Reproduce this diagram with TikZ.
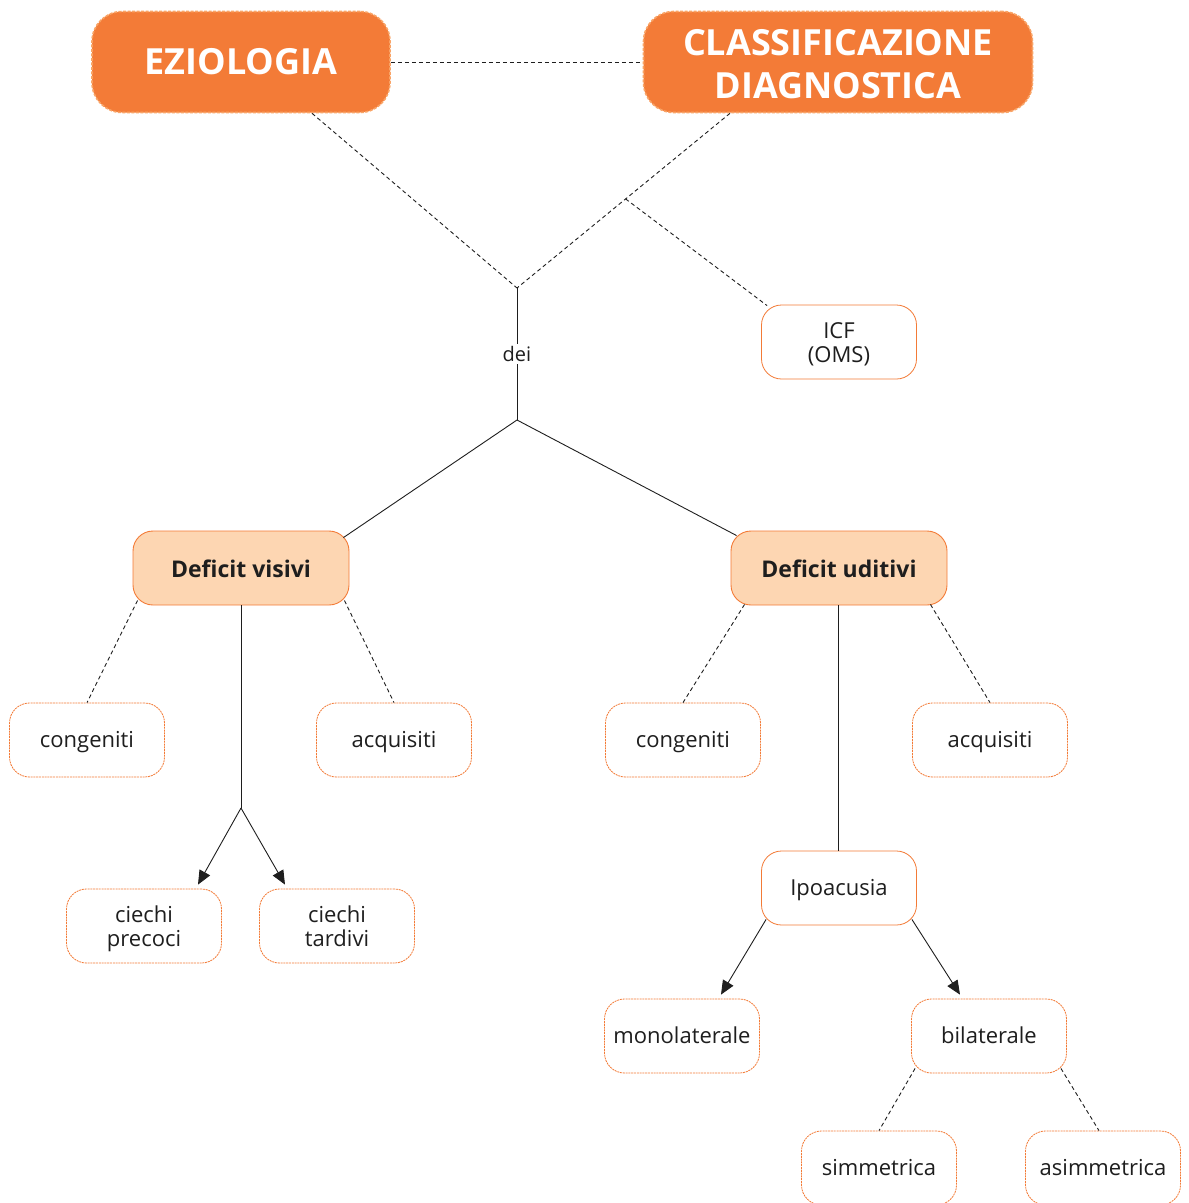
\documentclass[tikz,border=0pt]{standalone}
\usepackage{fontspec}
\setmainfont{Open Sans}
\usetikzlibrary{arrows.meta,calc}
\definecolor{orng}{HTML}{F37B37}
\definecolor{orngl}{HTML}{F9A466}
\definecolor{peach}{HTML}{FDD6B2}
\definecolor{txt}{HTML}{1E1E1E}
\tikzset{
  x=1pt,y=-1pt,
  topbox/.style={draw=orngl,line width=1.6pt,dash pattern=on 3pt off 1.5pt,fill=orng,rounded corners=30pt,
     text=white,font=\fontsize{36}{43}\selectfont\bfseries,align=center,inner sep=0pt},
  defbox/.style={draw=orng,line width=0.9pt,fill=peach,rounded corners=20pt,minimum width=216pt,minimum height=74pt,
     text=txt,font=\fontsize{23}{26}\selectfont\bfseries,inner sep=0pt,text height=19pt,text depth=1pt},
  leafbox/.style={draw=orng,line width=0.8pt,dash pattern=on 2pt off 0.8pt,fill=white,rounded corners=20pt,
     minimum width=155pt,minimum height=74pt,text=txt,font=\fontsize{22}{24}\selectfont,align=center,inner sep=0pt},
  oneline/.style={text height=17pt,text depth=3pt},
  twoline/.style={text height=42pt,text depth=2pt},
  solidleaf/.style={leafbox,solid},
  conn/.style={line width=0.9pt,draw=txt},
  dconn/.style={conn,dash pattern=on 4pt off 3pt},
  arr/.style={conn,-{Triangle[length=14pt,width=12pt]}},
}
\begin{document}
\begin{tikzpicture}
\useasboundingbox (0,0) rectangle (1189,1203);
\node[topbox,minimum width=298pt,minimum height=101pt] (ez) at (241,62) {EZIOLOGIA};
\node[topbox,minimum width=389pt,minimum height=101pt,text height=74pt,text depth=2pt] (cl) at (838,62) {CLASSIFICAZIONE\\DIAGNOSTICA};
\node[solidleaf,twoline] (icf) at (839,342) {ICF\\(OMS)};
\node[defbox] (dv) at (241,568) {Deficit visivi};
\node[defbox] (du) at (839,568) {Deficit uditivi};
\node[leafbox,oneline] (cv) at (87,740) {congeniti};
\node[leafbox,oneline] (av) at (394,740) {acquisiti};
\node[leafbox,oneline] (cu) at (683,740) {congeniti};
\node[leafbox,oneline] (au) at (990,740) {acquisiti};
\node[leafbox,twoline] (cp) at (144,926) {ciechi\\precoci};
\node[leafbox,twoline] (ct) at (337,926) {ciechi\\tardivi};
\node[solidleaf,oneline] (ipo) at (839,888) {Ipoacusia};
\node[leafbox,oneline] (mono) at (682,1036) {monolaterale};
\node[leafbox,oneline] (bil) at (989,1036) {bilaterale};
\node[leafbox,oneline] (sim) at (879,1168) {simmetrica};
\node[leafbox,oneline] (asim) at (1103,1168) {asimmetrica};
\coordinate (j1) at (517,288);
\coordinate (j2) at (517,420);
\coordinate (j3) at (241,808);
% top dashed
\draw[dconn] (ez.east) -- (cl.west);
\draw[dconn] ([xshift=71pt]ez.south) -- (j1);
\draw[dconn] ([xshift=-108pt]cl.south) -- coordinate[pos=0.49] (br) (j1);
\draw[dconn] (br) -- ([xshift=6pt,yshift=-1pt]icf.north west);
% dei
\draw[conn] (j1) -- node[fill=white,inner sep=2pt,text=txt,font=\fontsize{20}{22}\selectfont] (dei) {dei} (j2);
\draw[conn] (j2) -- ([xshift=-6pt,yshift=-7pt]dv.north east);
\draw[conn] (j2) -- ([xshift=6pt,yshift=-5pt]du.north west);
% deficit visivi
\draw[dconn] ([xshift=5pt,yshift=5pt]dv.south west) -- (cv.north);
\draw[dconn] ([xshift=-5pt,yshift=5pt]dv.south east) -- (av.north);
\draw[conn] (dv.south) -- (j3);
\draw[arr] (j3) -- ([xshift=54pt,yshift=4pt]cp.north);
\draw[arr] (j3) -- ([xshift=-52pt,yshift=4pt]ct.north);
% deficit uditivi
\draw[dconn] ([xshift=14pt,yshift=1pt]du.south west) -- (cu.north);
\draw[dconn] ([xshift=-17pt,yshift=1pt]du.south east) -- (au.north);
\draw[conn] ([xshift=-1pt]du.south) -- ([xshift=-1pt]ipo.north);
\draw[arr] ([xshift=5pt,yshift=6pt]ipo.south west) -- ([xshift=39pt,yshift=4pt]mono.north);
\draw[arr] ([xshift=-5pt,yshift=6pt]ipo.south east) -- ([xshift=-29pt,yshift=4pt]bil.north);
\draw[dconn] ([xshift=4pt,yshift=5pt]bil.south west) -- (sim.north);
\draw[dconn] ([xshift=-6pt,yshift=5pt]bil.south east) -- ([xshift=-4pt]asim.north);
\end{tikzpicture}
\end{document}
